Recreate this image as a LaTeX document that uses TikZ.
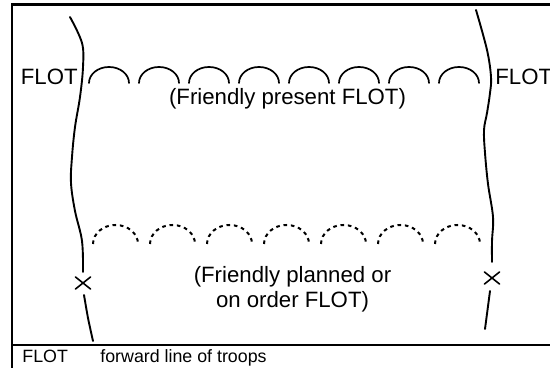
\documentclass[tikz,border=0pt]{standalone}
\usepackage{fontspec}
\setmainfont{Liberation Sans}
\usetikzlibrary{positioning}

\begin{document}
\begin{tikzpicture}[x=0.5pt, y=0.5pt, line cap=round,
    flotline/.style={line width=0.95pt},
    presentarc/.style={line width=0.85pt},
    plannedarc/.style={line width=1pt, line cap=butt, dash pattern=on 1.8pt off 1.9pt},
    crossmark/.style={line width=0.8pt},
    biglabel/.style={inner sep=0pt, font=\fontsize{11.1}{12.5}\selectfont},
    keylabel/.style={inner sep=0pt, font=\fontsize{8.9}{10}\selectfont}]
  \useasboundingbox (0,0) rectangle (550,368);
  % frame and key rule
  \draw[line width=1.35pt, line cap=butt] (12,-2) -- (12,363.7) -- (552,363.7);
  \draw[line width=0.95pt, line cap=butt] (12,23) -- (552,23);
  % left FLOT line
  \draw[flotline] plot[smooth, tension=0.6] coordinates {(70,351) (82,325) (83,301) (80,271) (75,241) (72,211) (71,185) (75,157) (82,127) (83,96)};
  \draw[crossmark] (75.5,79) -- (90.5,91) (75.5,91) -- (90.5,79);
  \draw[flotline] plot[smooth] coordinates {(84,73) (88,50) (93,27)};
  % right FLOT line
  \draw[flotline] plot[smooth, tension=0.6] coordinates {(476,358) (487,318) (491,291) (490,275) (487,255) (484,238) (485,215) (488,184) (493,151) (492,127) (492,106)};
  \draw[crossmark] (484.5,84) -- (499.5,96) (484.5,96) -- (499.5,84);
  \draw[flotline] plot[smooth] coordinates {(490,77) (487.5,58) (485,39)};
  % present FLOT arcs
  \draw[presentarc] (89,285) arc[start angle=180, end angle=0, x radius=10pt, y radius=8pt];
  \draw[presentarc] (139,285) arc[start angle=180, end angle=0, x radius=10pt, y radius=8pt];
  \draw[presentarc] (189,285) arc[start angle=180, end angle=0, x radius=10pt, y radius=8pt];
  \draw[presentarc] (239,285) arc[start angle=180, end angle=0, x radius=10pt, y radius=8pt];
  \draw[presentarc] (289,285) arc[start angle=180, end angle=0, x radius=10pt, y radius=8pt];
  \draw[presentarc] (339,285) arc[start angle=180, end angle=0, x radius=10pt, y radius=8pt];
  \draw[presentarc] (389,285) arc[start angle=180, end angle=0, x radius=10pt, y radius=8pt];
  \draw[presentarc] (439,285) arc[start angle=180, end angle=0, x radius=10pt, y radius=8pt];
  % planned FLOT arcs
  \draw[plannedarc] (93,124) arc[start angle=180, end angle=0, x radius=11.25pt, y radius=9.5pt];
  \draw[plannedarc] (150,124) arc[start angle=180, end angle=0, x radius=11.25pt, y radius=9.5pt];
  \draw[plannedarc] (207,124) arc[start angle=180, end angle=0, x radius=11.25pt, y radius=9.5pt];
  \draw[plannedarc] (264,124) arc[start angle=180, end angle=0, x radius=11.25pt, y radius=9.5pt];
  \draw[plannedarc] (321,124) arc[start angle=180, end angle=0, x radius=11.25pt, y radius=9.5pt];
  \draw[plannedarc] (378,124) arc[start angle=180, end angle=0, x radius=11.25pt, y radius=9.5pt];
  \draw[plannedarc] (435,124) arc[start angle=180, end angle=0, x radius=11.25pt, y radius=9.5pt];
  % labels
  \node[biglabel, anchor=base east] (flotL) at (78,283) {FLOT};
  \node[biglabel, anchor=base west] (flotR) at (495,283) {FLOT};
  \node[biglabel, anchor=base] (present) at (287.5,263) {(Friendly present FLOT)};
  \node[biglabel, anchor=base] (plannedA) at (292.5,85) {(Friendly planned or};
  \node[biglabel, anchor=base] (plannedB) at (292.5,60) {on order FLOT)};
  % key
  \node[keylabel, anchor=base west] (keyterm) at (22,5.3) {FLOT};
  \node[keylabel, anchor=base west] (keytext) at (100,5.3) {forward line of troops};
\end{tikzpicture}
\end{document}
